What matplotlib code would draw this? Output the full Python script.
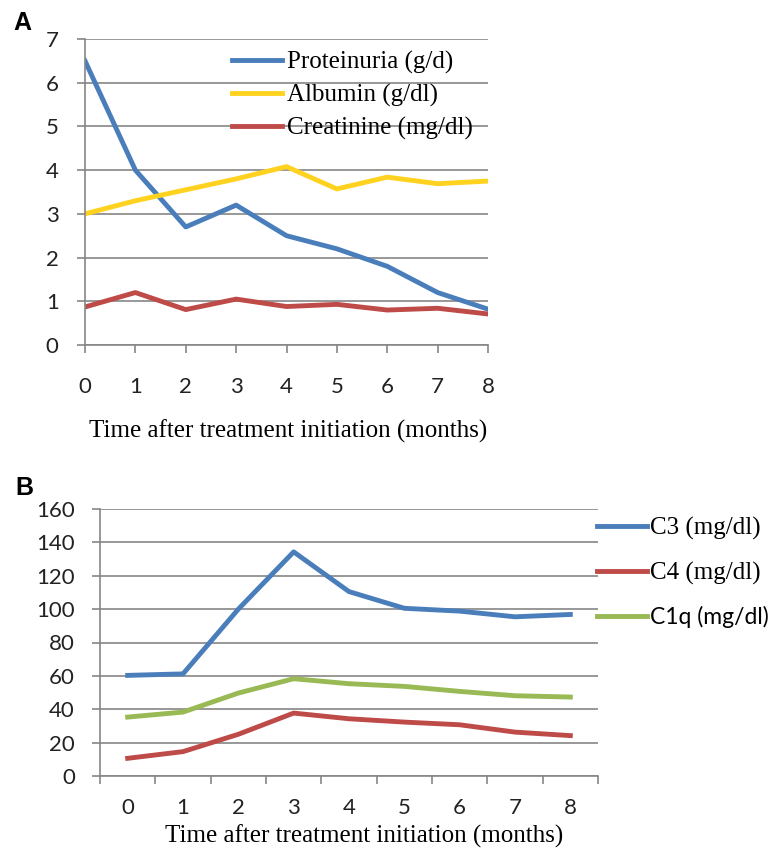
import matplotlib
matplotlib.use("Agg")
import matplotlib.pyplot as plt
from matplotlib.ticker import FixedLocator, NullFormatter

months = [0, 1, 2, 3, 4, 5, 6, 7, 8]

# panel A
proteinuria = [6.5, 4.0, 2.7, 3.2, 2.5, 2.2, 1.8, 1.2, 0.82]
albumin = [3.0, 3.3, 3.55, 3.8, 4.08, 3.57, 3.84, 3.69, 3.75]
creatinine = [0.87, 1.2, 0.81, 1.05, 0.88, 0.93, 0.8, 0.84, 0.71]
labels_a = ["Proteinuria (g/d)", "Albumin (g/dl)", "Creatinine (mg/dl)"]

# panel B
c3 = [60.3, 61.2, 100, 134.3, 110.5, 100.5, 98.8, 95.4, 96.8]
c4 = [10.6, 14.6, 25, 37.7, 34.3, 32.3, 30.7, 26.3, 24.2]
c1q = [35.3, 38.3, 49.7, 58.3, 55.3, 53.7, 50.7, 48.1, 47.3]
labels_b = ["C3 (mg/dl)", "C4 (mg/dl)", "C1q (mg/dl)"]

blue = "#4A7EBB"
red = "#BE4B48"
yellow = "#FFD21F"
green = "#98B954"
grid_col = "#868686"

W, H = 774, 857
fig = plt.figure(figsize=(W / 100, H / 100), dpi=100)

def px_axes(left, top, right, bottom):
    return fig.add_axes([left / W, 1 - bottom / H, (right - left) / W, (bottom - top) / H])

sans = "Lato"
serif = "Liberation Serif"
lw = 3.5

# ---------- A ----------
ax = px_axes(85, 39, 488, 345)
ax.plot(months, proteinuria, color=blue, lw=lw, label=labels_a[0])
ax.plot(months, albumin, color=yellow, lw=lw, label=labels_a[1])
ax.plot(months, creatinine, color=red, lw=lw, label=labels_a[2])
ax.set_xlim(0, 8)
ax.set_ylim(0, 7)
ax.set_yticks(range(0, 8))
ax.set_xticks(months)
ax.yaxis.grid(True, color=grid_col, lw=1.2)
ax.set_axisbelow(True)
for s in ["top", "right"]:
    ax.spines[s].set_visible(False)
for s in ["left", "bottom"]:
    ax.spines[s].set_color(grid_col)
    ax.spines[s].set_linewidth(1.2)
ax.tick_params(axis="y", length=6, width=1.2, color=grid_col, pad=13)
ax.tick_params(axis="x", length=6, width=1.2, color=grid_col, pad=17)
for t in ax.get_xticklabels() + ax.get_yticklabels():
    t.set_fontfamily(sans)
    t.set_fontsize(16)
    t.set_color("#222222")
ax.set_xlabel("Time after treatment initiation (months)", fontfamily=serif,
              fontsize=18, labelpad=16)
ax.xaxis.label.set_x(0.505)
ax.legend(loc="upper left", bbox_to_anchor=(232 / W, 1 - 51 / H),
          bbox_transform=fig.transFigure, frameon=False,
          prop={"family": serif, "size": 18}, handlelength=2.0,
          handletextpad=0.2, labelspacing=0.39, borderpad=0, borderaxespad=0)
fig.text(13 / W, 1 - 23 / H, "A", fontfamily="Liberation Sans", fontweight="bold",
         fontsize=18, va="center", ha="left")

# ---------- B ----------
bx = px_axes(100, 509, 598, 776)
bx.plot(months, c3, color=blue, lw=lw, label=labels_b[0])
bx.plot(months, c4, color=red, lw=lw, label=labels_b[1])
bx.plot(months, c1q, color=green, lw=lw, label=labels_b[2])
bx.set_xlim(-0.5, 8.5)
bx.set_ylim(0, 160)
bx.set_yticks(range(0, 161, 20))
bx.set_xticks(months)
bx.xaxis.set_minor_locator(FixedLocator([m - 0.5 for m in months] + [8.5]))
bx.xaxis.set_minor_formatter(NullFormatter())
bx.yaxis.grid(True, color=grid_col, lw=1.2)
bx.set_axisbelow(True)
for s in ["top", "right"]:
    bx.spines[s].set_visible(False)
for s in ["left", "bottom"]:
    bx.spines[s].set_color(grid_col)
    bx.spines[s].set_linewidth(1.2)
bx.tick_params(axis="y", length=6, width=1.2, color=grid_col, pad=12)
bx.tick_params(axis="x", which="major", length=0, pad=15.5)
bx.tick_params(axis="x", which="minor", length=6, width=1.2, color=grid_col)
for t in bx.get_xticklabels() + bx.get_yticklabels():
    t.set_fontfamily(sans)
    t.set_fontsize(16)
    t.set_color("#222222")
bx.set_xlabel("Time after treatment initiation (months)", fontfamily=serif,
              fontsize=18, labelpad=5)
bx.xaxis.label.set_x(0.53)
leg = bx.legend(loc="upper left", bbox_to_anchor=(597 / W, 1 - 517 / H),
                bbox_transform=fig.transFigure, frameon=False,
                prop={"family": serif, "size": 18}, handlelength=2.0,
                handletextpad=0.12, labelspacing=0.86, borderpad=0, borderaxespad=0)
leg.get_texts()[2].set_fontfamily(sans)
leg.get_texts()[2].set_fontsize(16.5)
fig.text(15 / W, 1 - 488 / H, "B", fontfamily="Liberation Sans", fontweight="bold",
         fontsize=18, va="center", ha="left")

fig.savefig("out.png", dpi=100)
